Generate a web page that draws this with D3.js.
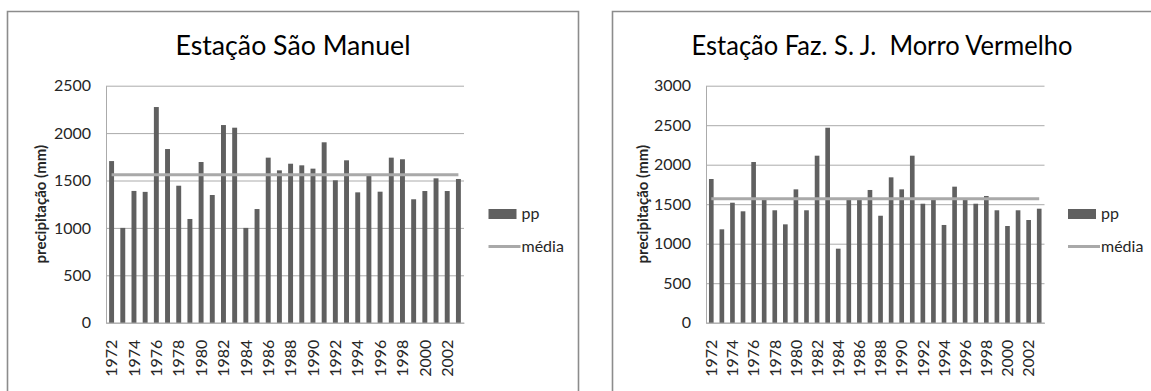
<!DOCTYPE html>
<html>
<head>
<meta charset="utf-8">
<script src="https://cdn.jsdelivr.net/npm/d3@7"></script>
<style>
  html, body { margin: 0; padding: 0; background: #fff; }
  svg { display: block; font-family: Lato, "Open Sans", "Liberation Sans", sans-serif; }
</style>
</head>
<body>
<svg id="chart" width="1151" height="391"></svg>
<script>
// Annual rainfall, 1972–2003, at two stations
const years = [1972, 1973, 1974, 1975, 1976, 1977, 1978, 1979, 1980, 1981, 1982, 1983, 1984, 1985, 1986, 1987,
               1988, 1989, 1990, 1991, 1992, 1993, 1994, 1995, 1996, 1997, 1998, 1999, 2000, 2001, 2002, 2003];

const ppSaoManuel = [1705, 1000, 1390, 1380, 2275, 1832, 1445, 1094, 1695, 1347, 2085, 2057, 1000, 1199, 1741, 1607,
                     1677, 1660, 1625, 1903, 1502, 1713, 1375, 1551, 1382, 1741, 1724, 1302, 1389, 1523, 1389, 1516];

const ppMorroVermelho = [1819, 1182, 1519, 1410, 2034, 1562, 1423, 1245, 1688, 1423, 2114, 2468, 937, 1562, 1562, 1680,
                         1354, 1840, 1688, 2114, 1506, 1562, 1237, 1722, 1562, 1506, 1604, 1423, 1224, 1423, 1300, 1443];

// long-term mean of each station (the "média" series)
const mediaSaoManuel = 1560;
const mediaMorroVermelho = 1570;

const yTicksSaoManuel = [0, 500, 1000, 1500, 2000, 2500];
const yTicksMorroVermelho = [0, 500, 1000, 1500, 2000, 2500, 3000];
const xTickYears = [1972, 1974, 1976, 1978, 1980, 1982, 1984, 1986, 1988, 1990, 1992, 1994, 1996, 1998, 2000, 2002];

const titleSaoManuel = "Estação São Manuel";
const titleMorroVermelho = "Estação Faz. S. J.  Morro Vermelho";
const yAxisTitle = "precipitação (mm)";
const legendLabels = ["pp", "média"];

// styling
const barColor = "#606060";
const meanColor = "#a9a9a9";
const gridColor = "#ababab";
const frameColor = "#8c8c8c";
const textColor = "#262626";
const tickFont = 16;

const panels = [
  {
    title: titleSaoManuel, values: ppSaoManuel, media: mediaSaoManuel, ticks: yTicksSaoManuel,
    frame: { x0: 7.5, x1: 578.5, y0: 11.5, bottom: 400 },
    plot: { x0: 106, x1: 464, y0: 85.7, y1: 322.7 },
    titleX: 293, titleW: 235, yTitleX: 41, legendX: 488.5
  },
  {
    title: titleMorroVermelho, values: ppMorroVermelho, media: mediaMorroVermelho, ticks: yTicksMorroVermelho,
    frame: { x0: 612.5, x1: 1170, y0: 11.5, bottom: 400 },
    plot: { x0: 706, x1: 1044.5, y0: 85.7, y1: 322.7 },
    titleX: 882, titleW: 381, yTitleX: 643, legendX: 1068
  }
];

const svg = d3.select("#chart");
svg.append("rect").attr("width", 1151).attr("height", 391).attr("fill", "#fff");

panels.forEach(p => {
  const g = svg.append("g");

  // chart frame (left and top edges, running off the bottom of the page)
  const f = p.frame;
  g.append("path")
    .attr("d", `M${f.x0},${f.bottom}V${f.y0}H${f.x1}V${f.bottom}`)
    .attr("fill", "none")
    .attr("stroke", frameColor)
    .attr("stroke-width", 1.6);

  const x = d3.scaleBand()
    .domain(years)
    .range([p.plot.x0, p.plot.x1])
    .paddingInner(0.56)
    .paddingOuter(0.28);

  const y = d3.scaleLinear()
    .domain([0, d3.max(p.ticks)])
    .range([p.plot.y1, p.plot.y0]);

  // value axis with horizontal gridlines
  const gy = g.append("g")
    .attr("transform", `translate(${p.plot.x0},0)`)
    .call(d3.axisLeft(y)
      .tickValues(p.ticks)
      .tickSize(-(p.plot.x1 - p.plot.x0))
      .tickSizeOuter(0)
      .tickPadding(15)
      .tickFormat(d3.format("d")));
  gy.select(".domain").attr("stroke", gridColor);
  gy.selectAll(".tick line").attr("stroke", gridColor);
  gy.selectAll(".tick text")
    .attr("font-size", tickFont)
    .attr("fill", textColor)
    .attr("font-family", "Lato, sans-serif");

  // category axis: years, rotated
  const gx = g.append("g")
    .attr("transform", `translate(0,${p.plot.y1})`)
    .call(d3.axisBottom(x)
      .tickValues(xTickYears)
      .tickSize(0)
      .tickSizeOuter(0));
  gx.select(".domain").attr("stroke", gridColor);
  gx.selectAll(".tick text")
    .attr("transform", "rotate(-90)")
    .attr("x", -17)
    .attr("y", 0)
    .attr("dy", "0.36em")
    .attr("text-anchor", "end")
    .attr("font-size", tickFont)
    .attr("fill", textColor)
    .attr("font-family", "Lato, sans-serif");

  // bars
  g.append("g")
    .selectAll("rect")
    .data(years.map((yr, i) => ({ year: yr, value: p.values[i] })))
    .join("rect")
    .attr("x", d => x(d.year))
    .attr("width", x.bandwidth())
    .attr("y", d => y(d.value))
    .attr("height", d => y(0) - y(d.value))
    .attr("fill", barColor);

  // mean line across band centres
  const meanLine = d3.line()
    .x(d => x(d) + x.bandwidth() / 2)
    .y(() => y(p.media));
  g.append("path")
    .attr("d", meanLine(years))
    .attr("fill", "none")
    .attr("stroke", meanColor)
    .attr("stroke-width", 3);

  // title
  g.append("text")
    .attr("x", p.titleX)
    .attr("y", 55)
    .attr("text-anchor", "middle")
    .attr("font-size", 27)
    .attr("fill", "#000")
    .attr("textLength", p.titleW)
    .attr("lengthAdjust", "spacingAndGlyphs")
    .style("white-space", "pre")
    .text(p.title);

  // value axis title
  g.append("text")
    .attr("transform", `translate(${p.yTitleX},${(p.plot.y0 + p.plot.y1) / 2}) rotate(-90)`)
    .attr("text-anchor", "middle")
    .attr("dy", "0.36em")
    .attr("font-size", 15)
    .attr("font-weight", "bold")
    .attr("fill", textColor)
    .text(yAxisTitle);

  // legend
  const lg = g.append("g").attr("transform", `translate(${p.legendX},0)`);
  lg.append("rect")
    .attr("x", 0).attr("y", 209)
    .attr("width", 28).attr("height", 10)
    .attr("fill", barColor);
  lg.append("text")
    .attr("x", 33).attr("y", 218.5)
    .attr("font-size", 16)
    .attr("fill", textColor)
    .text(legendLabels[0]);
  lg.append("line")
    .attr("x1", 0).attr("x2", 32)
    .attr("y1", 246.5).attr("y2", 246.5)
    .attr("stroke", meanColor)
    .attr("stroke-width", 3);
  lg.append("text")
    .attr("x", 33).attr("y", 252)
    .attr("font-size", 16)
    .attr("fill", textColor)
    .text(legendLabels[1]);
});
</script>
</body>
</html>
